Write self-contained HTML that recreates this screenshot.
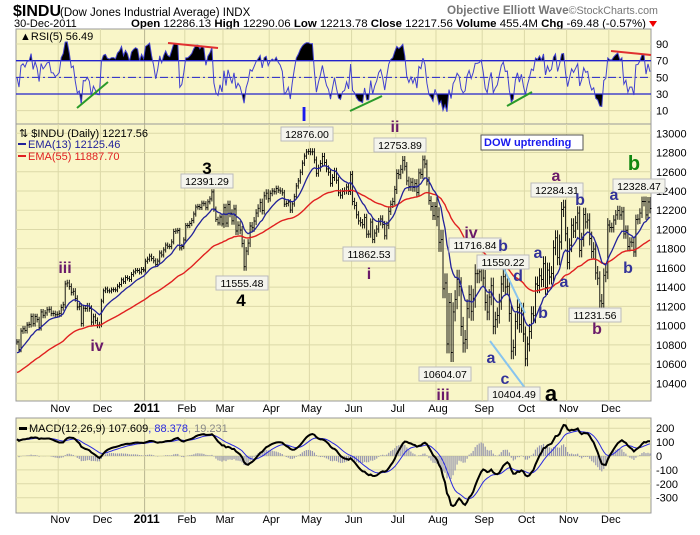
<!DOCTYPE html>
<html><head><meta charset="utf-8">
<style>
body{margin:0;background:#fff;font-family:"Liberation Sans",sans-serif;}
svg text{font-family:"Liberation Sans",sans-serif;}
</style></head>
<body>
<svg id="c" width="700" height="530" xmlns="http://www.w3.org/2000/svg">
<rect width="700" height="530" fill="#fff"/>
<text x="13" y="16" font-size="16" font-weight="bold">$INDU</text>
<text x="60" y="16" font-size="11.5">(Dow Jones Industrial Average) INDX</text>
<text x="447" y="14" font-size="12" font-weight="bold" fill="#777" textLength="211" lengthAdjust="spacingAndGlyphs">Objective Elliott Wave<tspan font-weight="normal" font-size="11">©StockCharts.com</tspan></text>
<text x="14" y="27" font-size="11">30-Dec-2011</text>
<text x="131" y="27" font-size="11" textLength="515" lengthAdjust="spacingAndGlyphs"><tspan font-weight="bold">Open</tspan> 12286.13 <tspan font-weight="bold">High</tspan> 12290.06 <tspan font-weight="bold">Low</tspan> 12213.78 <tspan font-weight="bold">Close</tspan> 12217.56 <tspan font-weight="bold">Volume</tspan> 455.4M <tspan font-weight="bold">Chg</tspan> -69.48 (-0.57%)</text>
<path d="M649 21 L657 21 L653 27 Z" fill="#e00"/>
<g id="g"></g>
</svg>
<script>
const monthDays=[21,21,22,20,19,23,20,21,22,20,23,21,21,21,21];
const monthLabels=["","Nov","Dec","2011","Feb","Mar","Apr","May","Jun","Jul","Aug","Sep","Oct","Nov","Dec"];
const monthRanges=[100,110,80,90,90,140,100,120,130,150,330,280,260,240,170];
const closes=[
10830,10752,10944,10967,10948,11006,11010,11096,11020,11094,11062,10978,11143,11107,11132,11164,11170,11127,11126,11113,11118,
11125,11188,11216,11434,11444,11406,11346,11357,11283,11193,11201,11023,11181,11178,11203,11178,11036,11092,11052,11007,11006,
11255,11362,11382,11362,11359,11372,11373,11370,11410,11428,11476,11457,11499,11492,11478,11533,11559,11575,11573,11555,11585,11578,
11670,11691,11722,11697,11674,11637,11671,11755,11735,11787,11837,11825,11822,11871,11980,11985,11989,11808,11823,11891,
12040,12041,12062,12092,12161,12233,12239,12229,12273,12268,12226,12288,12318,12391,12212,12105,12068,12130,12058,
12226,12066,12258,12169,12090,12214,11984,12044,11993,11855,11613,11775,11858,12036,12018,12087,12170,12220,12279,12197,12350,12377,12320,
12376,12400,12393,12426,12409,12400,12381,12263,12270,12285,12201,12266,12341,12453,12505,12595,12690,12763,12807,12810,
12807,12808,12723,12584,12638,12685,12760,12695,12630,12595,12480,12540,12605,12512,12381,12356,12395,12402,12441,12394,12570,
12290,12248,12152,12089,12070,12049,12125,11951,11952,12076,11897,11962,12004,12080,12109,12050,11934,12044,12189,12262,12290,12414,
12582,12569,12626,12719,12657,12505,12446,12491,12437,12479,12385,12588,12571,12724,12681,12502,12302,12240,12143,12240,
12132,11866,11896,11383,11444,10810,11240,10720,11143,11270,11482,11405,10991,10818,10855,11176,11321,11149,11284,11540,11540,11560,11614,
11494,11240,11140,11296,11415,10993,11061,11105,11247,11433,11509,11401,11409,11125,10734,10771,11044,11190,11010,11154,10913,
10655,10809,10940,11123,11103,11433,11416,11518,11478,11644,11397,11577,11505,11541,11809,11913,11706,11869,12208,12231,11955,
11657,11836,12044,11983,12069,12170,11781,11894,12154,12079,12097,11906,11771,11796,11548,11493,11257,11231,11523,11556,12046,
12020,12019,12098,12151,12196,12150,12184,11954,11991,11823,11868,11866,11766,12103,12108,12170,12291,12292,12151,12287,12218];
const priceTicks=[10400,10600,10800,11000,11200,11400,11600,11800,12000,12200,12400,12600,12800,13000];
const rsiTicks=[10,30,50,70,90];
const macdTicks=[-300,-200,-100,0,100,200];
const seeds=[10700,10500,10770,10645,120,40,40]; // ema13, ema55, ema12, ema26, signal, avgGain, avgLoss

const NS="http://www.w3.org/2000/svg";
const G=document.getElementById('g');
function el(t,a,p){const e=document.createElementNS(NS,t);for(const k in a)e.setAttribute(k,a[k]);(p||G).appendChild(e);return e;}
const X0=16,X1=651,N=closes.length,W=(X1-X0)/N;
const xOf=i=>X0+(i+0.5)*W;
const yP=v=>133.3+(13000-v)*0.09615;
const yR=v=>119-v*0.8333;
const yM=v=>456-v*0.139;
const monthStart=[];let acc=0;monthDays.forEach(d=>{monthStart.push(acc);acc+=d;});
const BG="#f9f6c8",GR="#dcd9a8";

const e13=[],e55=[],macd=[],sig=[],hist=[],rsi=[];
let a13=seeds[0],a55=seeds[1],a12=seeds[2],a26=seeds[3],s9=seeds[4],ag=seeds[5],al=seeds[6];
closes.forEach((c,i)=>{
  a13+=(c-a13)*2/14;a55+=(c-a55)*2/56;a12+=(c-a12)*2/13;a26+=(c-a26)*2/27;
  const m=a12-a26;s9+=(m-s9)*2/10;
  e13.push(a13);e55.push(a55);macd.push(m);sig.push(s9);hist.push(m-s9);
  const d=i?c-closes[i-1]:0;ag=(ag*4+Math.max(d,0))/5;al=(al*4+Math.max(-d,0))/5;
  rsi.push(100-100/(1+ag/(al||1e-9)));
});

function panel(y0,y1,name){
  const r=el('rect',{x:X0,y:y0,width:X1-X0,height:y1-y0,fill:BG,stroke:"#999"});
  
  
  monthStart.forEach((s,k)=>{if(k>0){const gx=X0+s*W;const l=el('line',{x1:gx,x2:gx,y1:y0,y2:y1,stroke:k==3?"#b8b590":GR});
    
    }});
}
function hgrid(y){el('line',{x1:X0,x2:X1,y1:y,y2:y,stroke:GR});}
function polyline(vals,yf,attrs,name){
  const pts=vals.map((v,i)=>xOf(i).toFixed(1)+","+yf(v).toFixed(1)).join(" ");
  const p=el('polyline',Object.assign({points:pts,fill:"none"},attrs));
  
  
  return p;
}
function txt(x,y,s,attrs,name){const t=el('text',Object.assign({x:x,y:y,"font-size":11},attrs));t.textContent=s;
  
  return t;}

// RSI panel
panel(29,124,'rsi-panel');
rsiTicks.forEach(v=>{hgrid(yR(v));txt(656,yR(v)+4,String(v),{},'rsi-tick-label');});
const defs=el('defs',{});
const ca=el('clipPath',{id:'ca'},defs);el('rect',{x:X0,y:29,width:X1-X0,height:yR(70)-29},ca);
const cb=el('clipPath',{id:'cb'},defs);el('rect',{x:X0,y:yR(30),width:X1-X0,height:124-yR(30)},cb);
const rp=rsi.map((v,i)=>xOf(i).toFixed(1)+","+yR(v).toFixed(1)).join(" ");
const fa=el('polygon',{points:xOf(0)+","+yR(70)+" "+rp+" "+xOf(N-1)+","+yR(70),fill:"#000","clip-path":"url(#ca)"});


const fb=el('polygon',{points:xOf(0)+","+yR(30)+" "+rp+" "+xOf(N-1)+","+yR(30),fill:"#000","clip-path":"url(#cb)"});


[70,30].forEach(v=>{const l=el('line',{x1:X0,x2:X1,y1:yR(v),y2:yR(v),stroke:"#2222cc","stroke-width":1.3});
  
  });
const l50=el('line',{x1:X0,x2:X1,y1:yR(50),y2:yR(50),stroke:"#2222cc","stroke-dasharray":"8,3,2,3"});


polyline(rsi,yR,{stroke:"#4040d0","stroke-width":1},'rsi-line');
txt(20,40,"▲RSI(5) 56.49",{"font-size":11},'rsi-legend');
[[77,108,108,82,"#2a9a2a"],[168,43,218,48,"#e03030"],[350,111,382,96,"#2a9a2a"],[507,106,532,92,"#2a9a2a"],[611,51,651,55,"#e03030"]].forEach(t=>{
  const l=el('line',{x1:t[0],y1:t[1],x2:t[2],y2:t[3],stroke:t[4],"stroke-width":2});
  
  });

// Main panel
panel(124,401,'price-panel');
priceTicks.forEach(v=>{hgrid(yP(v));txt(656,yP(v)+4,String(v),{},'price-tick-label');});
closes.forEach((c,i)=>{
  const p=i?closes[i-1]:c;let m=0;while(m<monthStart.length-1&&i>=monthStart[m+1])m++;
  const r=monthRanges[m]*0.3;const hi=Math.max(c,p)+r,lo=Math.min(c,p)-r,x=xOf(i);
  const b=el('path',{d:`M${x.toFixed(1)} ${yP(hi).toFixed(1)}V${yP(lo).toFixed(1)}M${x.toFixed(1)} ${yP(c).toFixed(1)}H${(x+1.5).toFixed(1)}`,stroke:"#000","stroke-width":0.9,fill:"none"});
  
  
});
polyline(e55,yP,{stroke:"#e02020","stroke-width":1.4},'ema55-line');
polyline(e13,yP,{stroke:"#22229a","stroke-width":1.3},'ema13-line');
txt(19,137,"⇅ $INDU (Daily) 12217.56",{"font-size":11},'price-legend');
el('rect',{x:18,y:143,width:8,height:2,fill:"#22229a"});
txt(28,148,"EMA(13) 12125.46",{"font-size":11,fill:"#22229a"},'ema13-legend');
el('rect',{x:18,y:155,width:8,height:2,fill:"#e02020"});
txt(28,160,"EMA(55) 11887.70",{"font-size":11,fill:"#e02020"},'ema55-legend');
[[503,267,525,313],[490,341,525,388]].forEach(t=>{const l=el('line',{x1:t[0],y1:t[1],x2:t[2],y2:t[3],stroke:"#88c4ee","stroke-width":2});
  
  });
[["12391.29",207,181],["11555.48",242,283],["12876.00",307,134],["12753.89",400,145],["11862.53",369,254],["11716.84",475,245],["11550.22",503,262],["10604.07",445,374],["10404.49",514,394],["12284.31",557,190],["11231.56",595,315],["12328.47",639,186]].forEach(b=>{
  const w=b[0].length*6+4;
  const r=el('rect',{x:b[1]-w/2,y:b[2]-7,width:w,height:14,fill:"#f4f4ec",stroke:"#bbb"});
  
  
  txt(b[1],b[2]+4,b[0],{"font-size":10.5,"text-anchor":"middle"},'price-callout-label');
});
const PU="#6a1a6a",BL="#333399";
[["iii",65,273,PU,16],["iv",97,351,PU,16],["3",207,174,"#000",17],["4",241,306,"#000",17],["I",304,121,"#1a1aee",20],
 ["ii",395,132,PU,16],["i",369,279,PU,16],["iv",471,238,PU,16],["b",503,251,BL,16],["d",518,281,BL,16],["iii",443,400,PU,16],
 ["a",491,363,BL,16],["c",505,384,BL,16],["a",551,401,"#000",22],["a",538,258,BL,16],["b",543,318,BL,16],["a",564,287,BL,16],
 ["a",556,181,PU,16],["b",580,205,BL,16],["b",597,334,PU,16],["a",614,200,BL,16],["b",628,273,BL,16],["b",634,170,"#118811",20]].forEach(w=>{
  txt(w[1],w[2],w[0],{"font-size":w[4],"font-weight":"bold",fill:w[3],"text-anchor":"middle"},'wave-label');
});
const tb=el('rect',{x:481,y:135,width:102,height:15,fill:"#fff",stroke:"#555"});


txt(484,146,"DOW uptrending",{"font-size":11,"font-weight":"bold",fill:"#1a1aee"},'trend-status-label');

monthStart.forEach((s,k)=>{if(!monthLabels[k])return;const gx=X0+s*W+2;
  [412,523].forEach(y=>txt(gx,y,monthLabels[k],{"font-size":k==3?12:11,"font-weight":k==3?"bold":"normal","text-anchor":"middle"},'month-label'));});

// MACD
panel(418,513,'macd-panel');
macdTicks.forEach(v=>{hgrid(yM(v));txt(656,yM(v)+4,String(v),{},'macd-tick-label');});
hist.forEach((h,i)=>{const y0=yM(0),y1=yM(h);const r=el('rect',{x:xOf(i)-0.6,y:Math.min(y0,y1),width:1.2,height:Math.abs(y1-y0),fill:"#9898b0"});
  
  });
polyline(sig,yM,{stroke:"#2a2ae0","stroke-width":1},'macd-signal-line');
polyline(macd,yM,{stroke:"#000","stroke-width":2},'macd-line');
el('rect',{x:19,y:427,width:8,height:3,fill:"#000"});
const mt=txt(29,432,"MACD(12,26,9) 107.609",{"font-size":11},'macd-legend');
const t1=el('tspan',{fill:"#2a2ae0"},mt);t1.textContent=", 88.378";
const t2=el('tspan',{fill:"#888"},mt);t2.textContent=", 19.231";
</script>
</body></html>
